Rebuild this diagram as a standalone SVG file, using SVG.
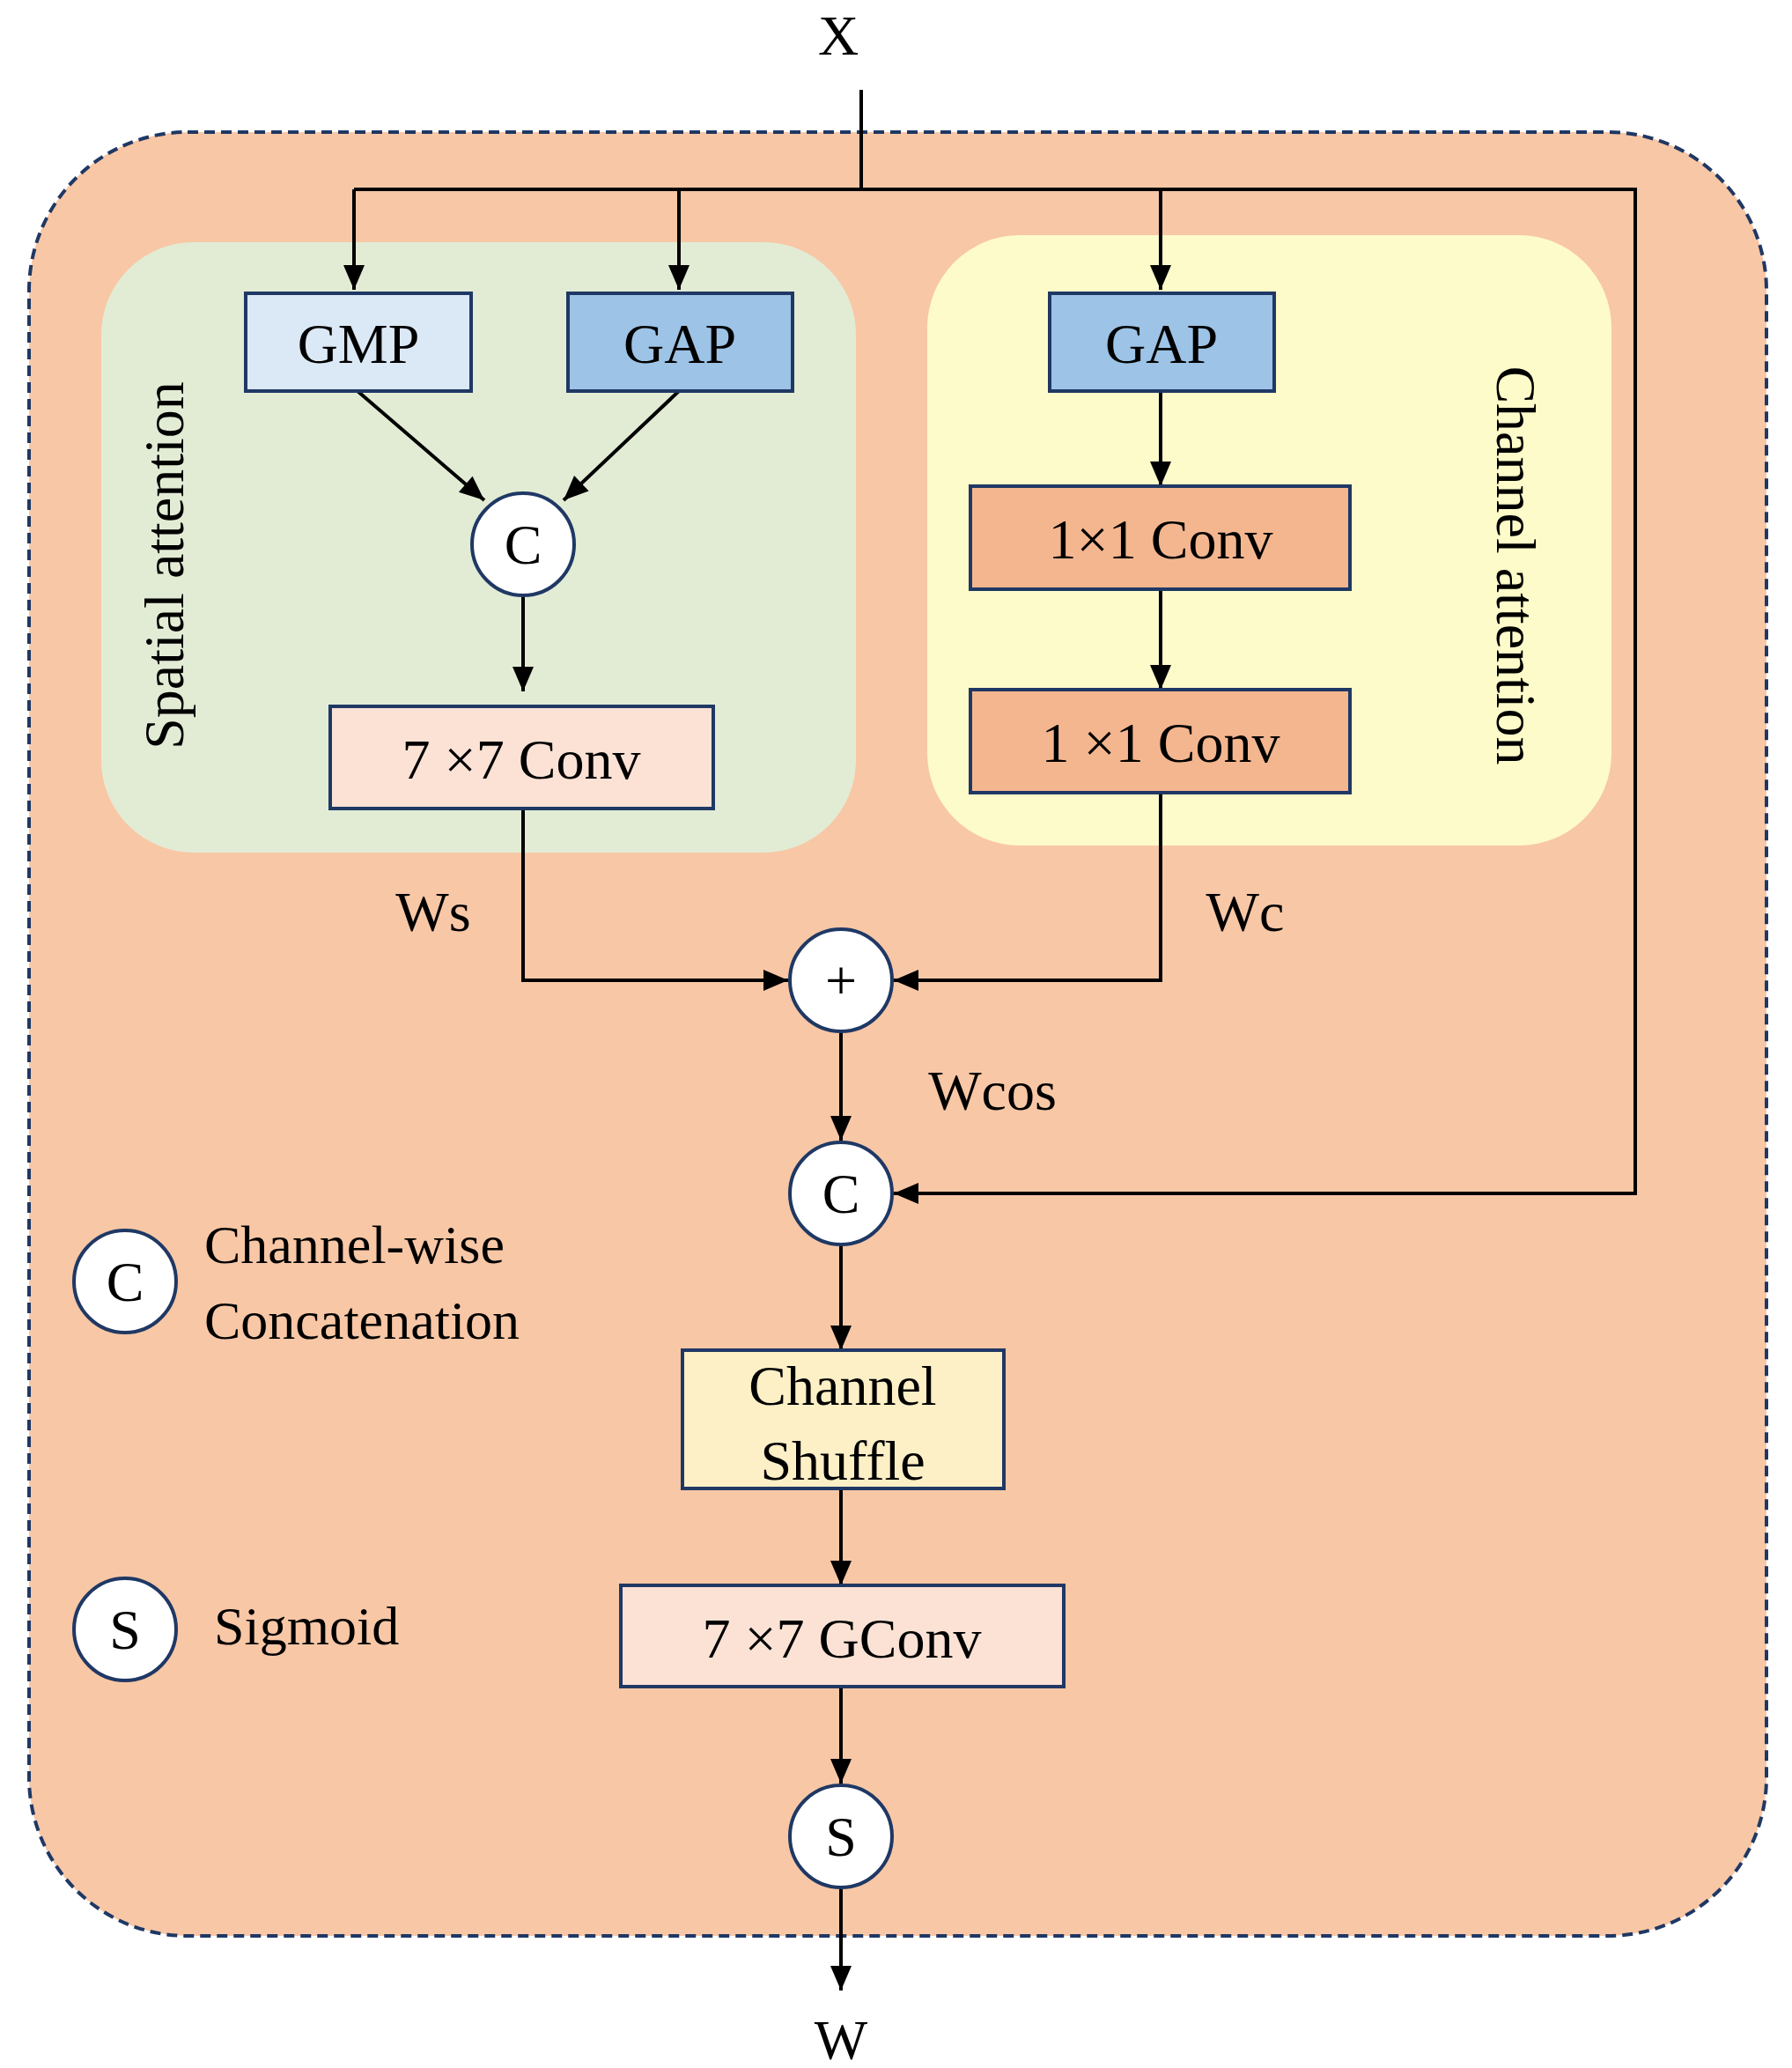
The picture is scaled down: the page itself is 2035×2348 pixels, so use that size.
<svg xmlns="http://www.w3.org/2000/svg" width="2035" height="2348" viewBox="0 0 2035 2348">
<style>
text{font-family:"Liberation Serif",serif;fill:#000}
.t{font-size:64px;text-anchor:middle}
.l{font-size:62px}
.box{stroke:#1f3864;stroke-width:4}
.c{fill:#fff;stroke:#1f3864;stroke-width:4}
.ln{fill:none;stroke:#000;stroke-width:4;marker-end:url(#a)}
.pl{fill:none;stroke:#000;stroke-width:4}
</style>
<defs><marker id="a" viewBox="-30 -15 30 30" refX="0" refY="0" markerWidth="30" markerHeight="30" orient="auto" markerUnits="userSpaceOnUse"><path d="M-28,-12L0,0L-28,12z" fill="#000"/></marker></defs>
<rect x="33" y="150" width="1973" height="2048" rx="180" fill="#f8c7a6" stroke="#1f3864" stroke-width="4" stroke-dasharray="12,7"/>
<g id="spatial"><rect x="115" y="275" width="857" height="693" rx="105" fill="#e2ecd5"/>
<text class="t" transform="translate(208,642) rotate(-90)">Spatial attention</text></g>
<g id="channel"><rect x="1053" y="267" width="777" height="693" rx="105" fill="#fdfbc9"/>
<text class="t" transform="translate(1700,642) rotate(90)">Channel attention</text></g>
<text class="t" x="952" y="62">X</text>
<g id="connectors">
<path class="pl" d="M978,102V215M402,215H1857V1355H1030"/>
<path class="ln" d="M1030,1355H1015"/>
<path class="ln" d="M402,215V329"/><path class="ln" d="M771,215V329"/><path class="ln" d="M1318,215V329"/>
<path class="ln" d="M406,444L550,568"/><path class="ln" d="M771,444L640,568"/>
<path class="ln" d="M594,678V785"/>
<path class="ln" d="M1318,444V552"/><path class="ln" d="M1318,669V783"/>
<path class="ln" d="M594,918V1113H895"/><path class="ln" d="M1318,900V1113H1015"/>
<path class="ln" d="M955,1173V1295"/><path class="ln" d="M955,1415V1533"/>
<path class="ln" d="M955,1690V1800"/><path class="ln" d="M955,1915V2025"/>
<path class="ln" d="M955,2145V2260"/>
</g>
<g id="gmp"><rect class="box" x="279" y="333" width="256" height="111" fill="#dbe8f5"/><text class="t" x="407" y="412">GMP</text></g>
<g id="gap1"><rect class="box" x="645" y="333" width="255" height="111" fill="#9dc3e6"/><text class="t" x="772" y="412">GAP</text></g>
<g id="gap2"><rect class="box" x="1192" y="333" width="255" height="111" fill="#9dc3e6"/><text class="t" x="1319" y="412">GAP</text></g>
<g id="concat1"><circle class="c" cx="594" cy="618" r="58"/><text class="t" x="594" y="640">C</text></g>
<g id="conv7"><rect class="box" x="375" y="802" width="435" height="116" fill="#fbe2d5"/><text class="t" x="592" y="884">7 ×7 Conv</text></g>
<g id="conv1a"><rect class="box" x="1102" y="552" width="431" height="117" fill="#f4b68f"/><text class="t" x="1318" y="634">1×1 Conv</text></g>
<g id="conv1b"><rect class="box" x="1102" y="783" width="431" height="117" fill="#f4b68f"/><text class="t" x="1318" y="865">1 ×1 Conv</text></g>
<text class="t" x="492" y="1057">Ws</text>
<text class="t" x="1414" y="1057">Wc</text>
<text class="t" x="1127" y="1260">Wcos</text>
<g id="plus"><circle class="c" cx="955" cy="1113" r="58"/><text class="t" x="955" y="1135">+</text></g>
<g id="concat2"><circle class="c" cx="955" cy="1355" r="58"/><text class="t" x="955" y="1377">C</text></g>
<g id="shuffle"><rect class="box" x="775" y="1533" width="365" height="157" fill="#fdefc6"/><text class="t" x="957" y="1595">Channel</text><text class="t" x="957" y="1680">Shuffle</text></g>
<g id="gconv"><rect class="box" x="705" y="1800" width="503" height="115" fill="#fbe2d5"/><text class="t" x="956" y="1882">7 ×7 GConv</text></g>
<g id="sig"><circle class="c" cx="955" cy="2085" r="58"/><text class="t" x="955" y="2107">S</text></g>
<text class="t" x="955" y="2338">W</text>
<g id="legend">
<circle class="c" cx="142" cy="1455" r="58"/><text class="t" x="142" y="1477">C</text>
<text class="l" x="232" y="1434">Channel-wise</text>
<text class="l" x="232" y="1520">Concatenation</text>
<circle class="c" cx="142" cy="1850" r="58"/><text class="t" x="142" y="1872">S</text>
<text class="l" x="243" y="1867">Sigmoid</text>
</g>
</svg>
